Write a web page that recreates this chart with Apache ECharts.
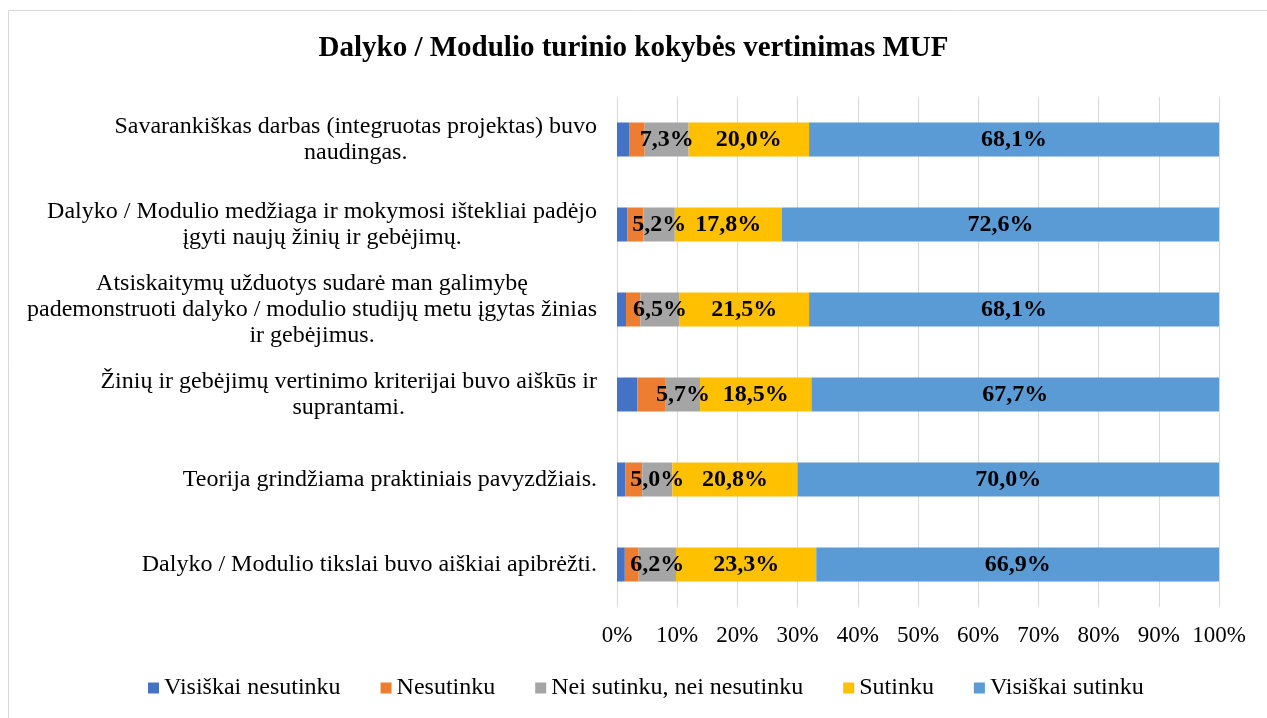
<!DOCTYPE html>
<html lang="lt">
<head>
    <meta charset="UTF-8">
    <title>echarts</title>
    <script src="https://cdn.jsdelivr.net/npm/echarts@6/dist/echarts.min.js"></script>
    <style>
        html, body { margin: 0; padding: 0; background: #fff; }
    </style>
</head>
<body>
    <div id="charts1" style="width: 1267px;height:718px;"></div>
    <script type="text/javascript">
        // klausimai (iš viršaus į apačią)
        var categories = [
            'Savarankiškas darbas (integruotas projektas) buvo\nnaudingas.',
            'Dalyko / Modulio medžiaga ir mokymosi ištekliai padėjo\nįgyti naujų žinių ir gebėjimų.',
            'Atsiskaitymų užduotys sudarė man galimybę\npademonstruoti dalyko / modulio studijų metu įgytas žinias\nir gebėjimus.',
            'Žinių ir gebėjimų vertinimo kriterijai buvo aiškūs ir\nsuprantami.',
            'Teorija grindžiama praktiniais pavyzdžiais.',
            'Dalyko / Modulio tikslai buvo aiškiai apibrėžti.'
        ];
        var seriesNames = ['Visiškai nesutinku', 'Nesutinku', 'Nei sutinku, nei nesutinku', 'Sutinku', 'Visiškai sutinku'];
        var visiskaiNesutinku = [2.1, 1.7, 1.5, 3.4, 1.4, 1.3];
        var nesutinku = [2.5, 2.7, 2.4, 4.7, 2.8, 2.3];
        var neiNei = [7.3, 5.2, 6.5, 5.7, 5.0, 6.2];
        var sutinku = [20.0, 17.8, 21.5, 18.5, 20.8, 23.3];
        var visiskaiSutinku = [68.1, 72.6, 68.1, 67.7, 70.0, 66.9];
        var xTicks = [0, 10, 20, 30, 40, 50, 60, 70, 80, 90, 100];

        var colors = ['#4472C4', '#ED7D31', '#A5A5A5', '#FFC000', '#5B9BD5'];
        var font = "'Liberation Serif', 'Times New Roman', serif";

        var myChart = echarts.init(document.getElementById('charts1'));

        function makeSeries(name, data, color, showLabel) {
            return {
                name: name,
                type: 'bar',
                stack: 'total',
                data: data,
                barCategoryGap: '60%',
                itemStyle: { color: color },
                label: {
                    show: showLabel,
                    position: 'inside',
                    color: '#000',
                    fontFamily: font,
                    fontWeight: 'bold',
                    fontSize: 24,
                    formatter: function (p) {
                        return p.value.toFixed(1).replace('.', ',') + '%';
                    }
                },
                emphasis: { disabled: true }
            };
        }

        var option = {
            animation: false,
            graphic: [{
                type: 'rect',
                shape: { x: 8.5, y: 10.5, width: 1400, height: 900 },
                style: { fill: 'none', stroke: '#d9d9d9', lineWidth: 1 },
                silent: true
            }],
            title: {
                text: 'Dalyko / Modulio turinio kokybės vertinimas MUF',
                left: 'center',
                top: 29,
                textStyle: {
                    fontFamily: font,
                    fontWeight: 'bold',
                    fontSize: 29,
                    color: '#000'
                }
            },
            legend: {
                data: seriesNames,
                bottom: 13,
                left: 143,
                icon: 'rect',
                itemWidth: 11,
                itemHeight: 11,
                itemGap: 40,
                textStyle: {
                    fontFamily: font,
                    fontSize: 24,
                    color: '#000'
                }
            },
            grid: {
                left: 617,
                right: 48,
                top: 97,
                bottom: 111
            },
            xAxis: {
                type: 'value',
                min: 0,
                max: 100,
                interval: 10,
                axisLine: { show: false },
                axisTick: { show: false },
                axisLabel: {
                    margin: 17,
                    fontFamily: font,
                    fontSize: 23,
                    color: '#000',
                    formatter: function (v) {
                        return xTicks.indexOf(v) >= 0 ? v + '%' : '';
                    }
                },
                splitLine: { lineStyle: { color: '#d9d9d9', width: 1 } }
            },
            yAxis: {
                type: 'category',
                inverse: true,
                data: categories,
                axisLine: { show: false },
                axisTick: { show: false },
                axisLabel: {
                    margin: 20,
                    color: '#000',
                    fontFamily: font,
                    fontSize: 24,
                    formatter: function (v) {
                        return v.split('\n').map(function (l) { return '{c|' + l + '}'; }).join('\n');
                    },
                    rich: {
                        c: {
                            align: 'center',
                            fontFamily: font,
                            fontSize: 24,
                            lineHeight: 26,
                            color: '#000'
                        }
                    }
                }
            },
            series: [
                makeSeries(seriesNames[0], visiskaiNesutinku, colors[0], false),
                makeSeries(seriesNames[1], nesutinku, colors[1], false),
                makeSeries(seriesNames[2], neiNei, colors[2], true),
                makeSeries(seriesNames[3], sutinku, colors[3], true),
                makeSeries(seriesNames[4], visiskaiSutinku, colors[4], true)
            ]
        };
        myChart.setOption(option);
    </script>
</body>
</html>
